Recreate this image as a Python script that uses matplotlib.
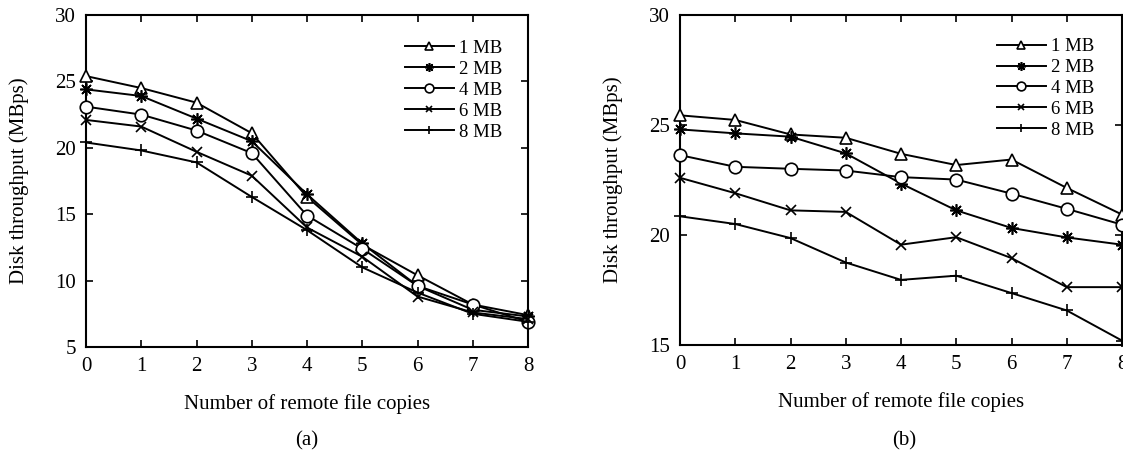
import numpy as np
import matplotlib
matplotlib.use("Agg")
import matplotlib.pyplot as plt

plt.rcParams['font.family'] = ['Liberation Serif', 'DejaVu Serif']
plt.rcParams['font.size'] = 15

copies = [0, 1, 2, 3, 4, 5, 6, 7, 8]
sizes = ["1 MB", "2 MB", "4 MB", "6 MB", "8 MB"]

# (a) disk throughput, MBps
a_1mb = [25.4, 24.5, 23.4, 21.1, 16.3, 12.7, 10.4, 8.2, 7.4]
a_2mb = [24.4, 23.9, 22.2, 20.5, 16.5, 12.8, 9.6, 7.8, 7.3]
a_4mb = [23.1, 22.5, 21.3, 19.6, 14.9, 12.4, 9.6, 8.2, 6.9]
a_6mb = [22.1, 21.6, 19.7, 17.9, 14.0, 11.8, 8.8, 7.6, 7.1]
a_8mb = [20.4, 19.8, 18.9, 16.3, 13.8, 11.0, 9.1, 7.5, 6.9]

# (b) disk throughput, MBps
b_1mb = [25.44, 25.23, 24.57, 24.42, 23.69, 23.18, 23.43, 22.14, 20.93]
b_2mb = [24.80, 24.62, 24.47, 23.71, 22.34, 21.12, 20.32, 19.89, 19.56]
b_4mb = [23.63, 23.10, 23.01, 22.93, 22.63, 22.52, 21.88, 21.19, 20.47]
b_6mb = [22.60, 21.90, 21.12, 21.05, 19.56, 19.90, 18.95, 17.63, 17.63]
b_8mb = [20.85, 20.50, 19.86, 18.75, 17.96, 18.15, 17.36, 16.57, 15.20]

markers = ['^', (8, 2, 0), 'o', 'x', '+']
msizes = [9, 9, 9, 7, 9]

W, H = 1123, 454
fig = plt.figure(figsize=(W / 100, H / 100), dpi=100)

ax_a = fig.add_axes([86 / W, 1 - 347 / H, 442 / W, 332 / H])
ax_b = fig.add_axes([680 / W, 1 - 345 / H, 442 / W, 330 / H])


def draw(ax, series, ylim, yticks, leg_anchor):
    for vals, lab, m, ms in zip(series, sizes, markers, msizes):
        ax.plot(copies, vals, color='black', lw=1.4, marker=m, ms=ms,
                mfc='white' if m in ('^', 'o') else 'black',
                mec='black', mew=1.2, label=lab, clip_on=False, zorder=3)
    ax.set_xlim(0, 8)
    ax.set_ylim(*ylim)
    ax.set_xticks(copies)
    ax.set_yticks(yticks)
    ax.tick_params(direction='in', length=5, width=1.2, top=True, right=True,
                   labelsize=15, pad=7)
    for s in ax.spines.values():
        s.set_linewidth(1.5)
    ax.set_xlabel("Number of remote file copies", fontsize=15, labelpad=13)
    ax.set_ylabel("Disk throughput (MBps)", fontsize=15, labelpad=19)
    ax.legend(loc='upper left', bbox_to_anchor=leg_anchor, frameon=False,
              handlelength=2.6, handletextpad=0.3, labelspacing=0.2,
              markerscale=0.7, fontsize=13.5, borderaxespad=0, borderpad=0)


draw(ax_a, [a_1mb, a_2mb, a_4mb, a_6mb, a_8mb], (5, 30),
     [5, 10, 15, 20, 25, 30], (0.722, 0.925))
draw(ax_b, [b_1mb, b_2mb, b_4mb, b_6mb, b_8mb], (15, 30),
     [15, 20, 25, 30], (0.717, 0.93))

fig.text(307 / W, 1 - 441 / H, "(a)", ha='center', va='center', fontsize=15)
fig.text(904 / W, 1 - 441 / H, "(b)", ha='center', va='center', fontsize=15)

fig.savefig("out.png", dpi=100)
